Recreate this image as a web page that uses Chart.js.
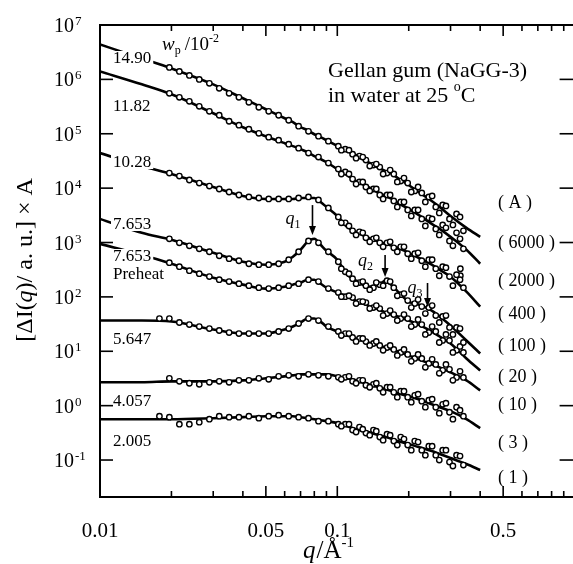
<!DOCTYPE html>
<html><head><meta charset="utf-8">
<script src="https://cdn.jsdelivr.net/npm/chart.js@4/dist/chart.umd.min.js"></script>
<style>
html,body{margin:0;padding:0;background:#fff;overflow:hidden;width:573px;height:564px}
#wrap{position:relative;width:580px;height:564px}
</style></head>
<body><div id="wrap"><canvas id="c" width="580" height="564"></canvas></div>
<script>
// ---------- data ----------
const fitQ = [0.01,0.015,0.02,0.03,0.04,0.05,0.06,0.065,0.07,0.075,0.08,0.085,0.09,0.1,0.11,0.12,0.135,0.15,0.16,0.17,0.18,0.2,0.22,0.25,0.27,0.3,0.35,0.4];
const dataQ = [0.0178,0.0196,0.0216,0.0238,0.0262,0.0289,0.0318,0.035,0.0385,0.0424,0.0467,0.0514,0.0566,0.0624,0.0687,0.0756,0.0833,0.0917,0.101,0.108,0.116,0.124,0.132,0.142,0.151,0.162,0.173,0.185,0.198,0.212,0.227,0.243,0.26,0.278,0.297,0.318,0.34];
const dataQHigh = [0.104,0.112,0.120,0.128,0.137,0.146,0.156,0.167,0.179,0.191,0.205,0.219,0.235,0.251,0.269,0.287,0.307,0.329];

const seriesLabels = ['14.90','11.82','10.28','7.653','7.653','5.647','4.057','2.005'];
const shiftLabels = ['( A )','( 6000 )','( 2000 )','( 400 )','( 100 )','( 20 )','( 10 )','( 3 )','( 1 )'];

const fit1490 = [4.38e6,2.43e6,1.59e6,8.1e5,4.49e5,2.82e5,1.93e5,1.63e5,1.32e5,1.16e5,9.8e4,8.65e4,7.6e4,5.92e4,4.8e4,4.05e4,3.01e4,2.34e4,2.06e4,1.82e4,1.53e4,1.14e4,8.5e3,5.81e3,4.51e3,3.08e3,1.86e3,1.27e3];
const fit1182 = [1.40e6,8.1e5,5.31e5,2.38e5,1.32e5,9.0e4,6.71e4,5.92e4,5.21e4,4.59e4,3.88e4,3.42e4,3.01e4,2.24e4,1.74e4,1.35e4,1.05e4,8.15e3,7.18e3,6.32e3,5.35e3,4.15e3,3.22e3,2.20e3,1.78e3,1.27e3,736,407];
const fit1028 = [4.41e4,2.55e4,1.82e4,1.05e4,7.18e3,6.32e3,6.32e3,6.32e3,6.59e3,6.59e3,6.59e3,5.57e3,4.51e3,3.08e3,1.94e3,1.57e3,1.22e3,1.03e3,946,871,800,647,525,391,316,235,125,66.2];
const fit7653 = [2.72e3,1.51e3,1.12e3,647,443,391,443,547,736,1.03e3,1.17e3,908,705,482,256,199,154,168,199,161,125,82,72.3,56.1,43.6,29.8,15.8,9.12];
const fit7653p = [946,596,407,225,168,142,154,168,183,207,207,175,148,120,101,85.5,69.2,58.5,51.5,47.3,43.6,36.8,31.0,23.1,18.7,13.9,7.39,4.45];
const fit5647 = [36.8,36.8,35.2,25.1,21.2,21.2,25.1,28.5,33.8,40.0,40.0,35.2,28.5,23.1,19.5,17.2,14.5,12.8,11.7,10.8,9.93,8.39,7.10,5.74,5.06,4.09,2.92,1.91];
const fit4057 = [2.69,2.69,2.80,2.80,2.92,3.18,3.46,3.61,3.76,3.76,3.76,3.76,3.76,3.46,3.18,2.92,2.47,2.18,2.00,1.84,1.69,1.49,1.31,1.06,0.937,0.792,0.565,0.386];
const fit2005 = [0.564,0.564,0.564,0.588,0.614,0.640,0.640,0.640,0.614,0.588,0.564,0.541,0.519,0.477,0.420,0.370,0.326,0.287,0.264,0.243,0.223,0.197,0.173,0.146,0.129,0.109,0.0845,0.0656];

const data1490 = [null,1.66e6,1.40e6,1.18e6,1.00e6,8.45e5,6.84e5,5.54e5,4.68e5,3.79e5,3.07e5,2.59e5,2.19e5,1.77e5,1.38e5,1.11e5,9.02e4,7.31e4,5.92e4,5.21e4,4.22e4,3.88e4,3.28e4,2.66e4,2.44e4,1.89e4,1.82e4,1.35e4,1.24e4,8.87e3,8.15e3,6.89e3,4.51e3,4.91e3,2.72e3,3.36e3,1.64e3];
const data1182 = [null,5.54e5,4.68e5,3.95e5,3.20e5,2.59e5,2.19e5,1.70e5,1.44e5,1.21e5,1.02e5,8.65e4,7.62e4,6.44e4,5.44e4,4.41e4,3.72e4,2.89e4,2.24e4,1.98e4,1.47e4,1.30e4,1.05e4,9.64e3,7.48e3,7.48e3,5.81e3,5.57e3,3.97e3,3.97e3,2.72e3,2.84e3,1.78e3,2.11e3,1.07e3,1.51e3,767];
const data1028 = [null,1.89e4,1.67e4,1.41e4,1.24e4,1.09e4,9.64e3,8.49e3,7.48e3,6.89e3,6.59e3,6.32e3,6.32e3,6.32e3,6.59e3,6.89e3,6.07e3,4.33e3,2.96e3,2.30e3,1.64e3,1.57e3,1.22e3,1.17e3,988,988,800,834,621,621,462,482,330,359,236,256,148];
const data7653 = [null,1.17e3,988,871,767,676,571,504,462,407,391,391,407,482,676,1.07e3,988,676,443,290,216,183,161,148,168,199,148,110,85.5,75.3,66.4,63.7,45.4,43.6,27.4,27.4,14.5];
const data7653p = [null,425,359,303,267,236,207,191,175,161,148,142,148,161,175,207,191,142,120,101,97.0,82.0,78.6,63.7,61.0,49.4,47.3,40.0,40.0,31.0,31.0,22.1,23.1,15.8,15.8,10.4,9.53];
const data5647 = [40.0,40.0,33.8,31.0,28.5,26.2,24.1,22.1,21.2,21.2,21.2,21.2,23.1,26.2,32.4,40.0,36.7,28.5,23.1,21.2,17.9,17.2,15.1,13.9,12.8,11.7,10.8,9.53,8.75,7.39,7.39,5.98,5.74,4.46,4.65,3.31,3.31];
const data4057 = [null,3.18,2.80,2.58,2.47,2.69,2.80,2.69,2.92,2.92,3.18,3.05,3.46,3.61,3.46,3.77,3.61,3.46,3.32,3.32,2.80,2.92,2.37,2.47,2.08,2.18,1.76,1.84,1.43,1.55,1.21,1.26,0.935,1.06,0.757,0.935,0.640];
const data2005 = [0.640,0.614,0.457,0.457,0.497,0.564,0.640,0.614,0.614,0.640,0.588,0.640,0.667,0.640,0.614,0.588,0.519,0.519,0.457,0.457,0.355,0.403,0.313,0.355,0.264,0.299,0.223,0.264,0.188,0.223,0.152,0.180,0.123,0.152,0.0918,0.123,0.0809];

const high1490 = [5.00e4,5.00e4,3.56e4,3.72e4,2.55e4,2.77e4,1.82e4,2.15e4,1.30e4,1.53e4,8.49e3,1.05e4,5.57e3,7.18e3,3.50e3,4.71e3,2.11e3,2.96e3];
const high1182 = [1.82e4,1.82e4,1.19e4,1.30e4,8.87e3,9.64e3,6.32e3,7.48e3,4.51e3,5.57e3,3.08e3,3.97e3,2.02e3,2.72e3,1.38e3,1.86e3,871,1.17e3];
const high1028 = [2.30e3,2.02e3,1.38e3,1.51e3,1.03e3,1.22e3,834,1.03e3,676,834,504,647,359,482,245,344,161,207];
const high7653 = [330,267,175,191,136,183,161,191,105,115,63.7,89.1,49.4,69.2,33.8,45.4,20.4,26.2];
const high7653p = [101,105,75.3,82.0,61.0,69.2,45.4,56.1,36.8,47.3,28.5,38.4,20.4,28.5,14.5,20.4,9.53,12.3];
const high5647 = [19.5,21.2,15.2,17.2,12.8,15.2,10.4,12.8,8.39,10.8,6.52,8.75,5.06,7.10,3.93,5.74,2.92,4.27];
const high4057 = [3.05,3.46,2.58,2.92,2.18,2.58,1.76,2.18,1.43,1.84,1.16,1.62,0.937,1.31,0.726,1.11,0.564,0.826];
const high2005 = [0.420,0.457,0.326,0.370,0.287,0.340,0.232,0.287,0.188,0.243,0.152,0.214,0.123,0.180,0.100,0.152,0.0776,0.118];

const outlierQ = [0.33,0.33];
const outlierI = [330,245];

const xMajorTicks = [0.01,0.05,0.1,0.5,1];
const xMinorTicks = [0.02,0.03,0.04,0.06,0.07,0.08,0.09,0.2,0.3,0.4,0.6,0.7,0.8,0.9];
const xTickValues = [0.01,0.05,0.1,0.5];
const xTickLabels = ['0.01','0.05','0.1','0.5'];
const yTickValues = [0.1,1,10,100,1e3,1e4,1e5,1e6,1e7];
const yTickExps = ['-1','0','1','2','3','4','5','6','7'];
const arrowQ = [0.0786,0.159,0.240];
const arrowTipI = [1370,232,65.2];
const arrowNames = ['1','2','3'];

// ---------- build ----------
const fits = [fit1490,fit1182,fit1028,fit7653,fit7653p,fit5647,fit4057,fit2005];
const datas = [data1490,data1182,data1028,data7653,data7653p,data5647,data4057,data2005];
const highs = [high1490,high1182,high1028,high7653,high7653p,high5647,high4057,high2005];
const datasets = [];
fits.forEach(f => datasets.push({
  data: fitQ.map((q,j)=>({x:q,y:f[j]})),
  showLine:true, pointRadius:0, borderColor:'#000', borderWidth:2.6,
  cubicInterpolationMode:'monotone', order:2
}));
const ptStyle = {showLine:false, pointRadius:2.7, pointBorderWidth:1.4, pointBorderColor:'#000', pointBackgroundColor:'#fff', order:1};
datas.forEach((d,i) => {
  const pts = dataQ.map((q,j)=>({x:q,y:d[j]})).filter(p=>p.y!==null)
    .concat(dataQHigh.map((q,j)=>({x:q,y:highs[i][j]})));
  datasets.push(Object.assign({data: pts}, ptStyle));
});
datasets.push(Object.assign({data: outlierQ.map((q,j)=>({x:q,y:outlierI[j]}))}, ptStyle));

const SERIF = '"Liberation Serif","Times New Roman",serif';
const F = (s,it)=> (it?'italic ':'') + s + 'px ' + SERIF;
function runs(ctx, parts, x, y){
  let cx = x;
  for (const p of parts){ ctx.font = F(p.s, p.i); ctx.fillText(p.t, cx, y + (p.dy||0)); cx += ctx.measureText(p.t).width + (p.g||0); }
  return cx;
}
function runsW(ctx, parts){ let w=0; for(const p of parts){ ctx.font=F(p.s,p.i); w+=ctx.measureText(p.t).width+(p.g||0);} return w; }
function seg(ctx,x1,y1,x2,y2){ ctx.beginPath(); ctx.moveTo(x1,y1); ctx.lineTo(x2,y2); ctx.stroke(); }

const deco = {
  id:'deco',
  afterDatasetsDraw(chart){
    const {ctx, chartArea:a, scales:{x,y}} = chart;
    ctx.save();
    ctx.fillStyle='#000'; ctx.strokeStyle='#000';
    // series labels with white background
    const labelY = [58,106,162,224,256,339,401,441];
    ctx.textBaseline='middle'; ctx.textAlign='left';
    seriesLabels.forEach((t,i)=>{
      ctx.font=F(17); const w=ctx.measureText(t).width;
      ctx.fillStyle='#fff'; ctx.fillRect(111, labelY[i]-7, w+4, 14);
      ctx.fillStyle='#000'; ctx.fillText(t, 113, labelY[i]+1);
    });
    ctx.font=F(17); ctx.fillText('Preheat', 113, 275);
    // frame
    ctx.lineWidth=2;
    ctx.strokeRect(a.left, a.top, a.right-a.left, a.bottom-a.top);
    // ticks
    ctx.lineWidth=1.6;
    yTickValues.forEach(v=>{ const py=y.getPixelForValue(v); seg(ctx,a.left,py,a.left+13,py); seg(ctx,a.right,py,a.right-15,py); });
    xMajorTicks.forEach(v=>{ const px=x.getPixelForValue(v); seg(ctx,px,a.bottom,px,a.bottom-11); seg(ctx,px,a.top,px,a.top+11); });
    xMinorTicks.forEach(v=>{ const px=x.getPixelForValue(v); seg(ctx,px,a.bottom,px,a.bottom-6); seg(ctx,px,a.top,px,a.top+6); });
    // x tick labels
    ctx.textAlign='center'; ctx.textBaseline='middle'; ctx.font=F(21);
    xTickValues.forEach((v,i)=> ctx.fillText(xTickLabels[i], x.getPixelForValue(v), 531));
    // y tick labels
    ctx.textAlign='left'; ctx.textBaseline='alphabetic';
    yTickValues.forEach((v,i)=>{
      const py=y.getPixelForValue(v);
      ctx.font=F(20); ctx.fillText('10', 54, py+7);
      const w=ctx.measureText('10').width;
      ctx.font=F(13); ctx.fillText(yTickExps[i], 54+w+1, py);
    });
    // right-side shift factors
    const shiftY=[203,243,281,314,346,377,405,443,478];
    ctx.font=F(18); ctx.textBaseline='middle';
    shiftLabels.forEach((t,i)=> ctx.fillText(t, 498, shiftY[i]));
    // arrows
    const dxs=[-27,-27,-20], dys=[-11,-11,-14], lens=[30,22,24];
    arrowQ.forEach((q,i)=>{
      const px=x.getPixelForValue(q), ty=y.getPixelForValue(arrowTipI[i]);
      ctx.lineWidth=1.6; seg(ctx,px,ty-lens[i],px,ty-6);
      ctx.beginPath(); ctx.moveTo(px-3.5,ty-9); ctx.lineTo(px+3.5,ty-9); ctx.lineTo(px,ty); ctx.closePath(); ctx.fill();
      ctx.textBaseline='alphabetic';
      runs(ctx,[{t:'q',s:18,i:true},{t:arrowNames[i],s:12,dy:4}], px+dxs[i], ty+dys[i]);
    });
    // w_p / 10^-2
    ctx.textBaseline='alphabetic';
    runs(ctx,[{t:'w',s:19,i:true},{t:'p',s:12,dy:4,g:4},{t:'/10',s:19},{t:'-2',s:12,dy:-8}],162,50);
    // title text
    ctx.font=F(22);
    ctx.fillText('Gellan gum (NaGG-3)', 328, 77);
    runs(ctx,[{t:'in water at 25 ',s:22},{t:'o',s:14,dy:-11},{t:'C',s:22}],328,102);
    // x axis title
    runs(ctx,[{t:'q',s:25,i:true,g:1},{t:'/Å',s:25},{t:'-1',s:15,dy:-11}],303,558);
    // y axis title
    ctx.save(); ctx.translate(26,260); ctx.rotate(-Math.PI/2);
    const yt=[{t:'[ΔI(',s:24},{t:'q',s:24,i:true},{t:')/ a. u.] × A',s:24}];
    ctx.textBaseline='middle';
    runs(ctx,yt,-runsW(ctx,yt)/2,0);
    ctx.restore();
    ctx.restore();
  }
};

new Chart(document.getElementById('c'), {
  type:'scatter',
  data:{datasets},
  options:{
    responsive:false, animation:false, devicePixelRatio:1, events:[],
    layout:{padding:{left:100,top:25,right:2,bottom:67}},
    scales:{
      x:{type:'logarithmic',min:0.01,max:1,display:false},
      y:{type:'logarithmic',min:0.0209,max:1e7,display:false}
    },
    plugins:{legend:{display:false},tooltip:{enabled:false}}
  },
  plugins:[deco]
});
</script>
</body></html>
